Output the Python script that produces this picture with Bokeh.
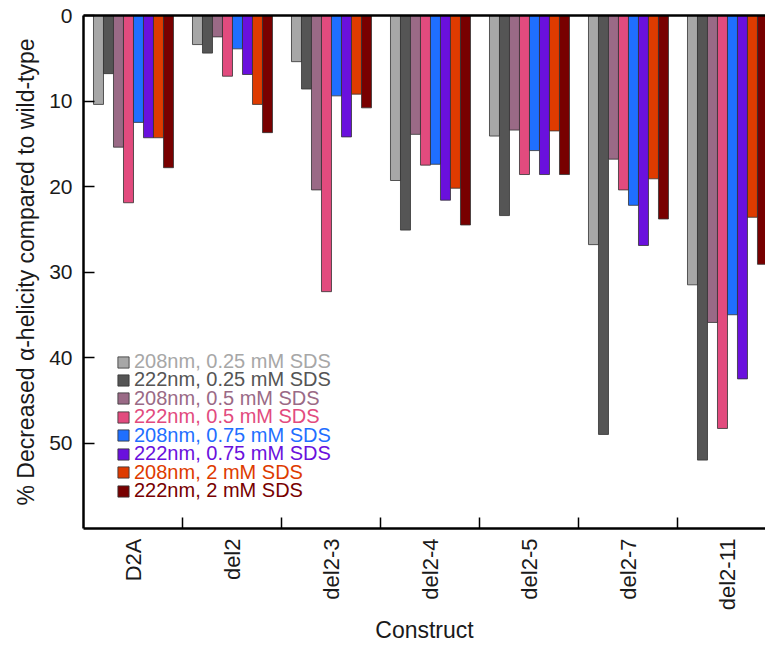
from bokeh.plotting import figure
from bokeh.models import (ColumnDataSource, Range1d, FixedTicker, LinearAxis, Legend, LegendItem)
from bokeh.transform import dodge
from bokeh.embed import file_html
from bokeh.resources import INLINE

# ---- data ----
constructs = ["D2A", "del2", "del2-3", "del2-4", "del2-5", "del2-7", "del2-11"]
s208_025 = [10.4, 3.4, 5.4, 19.3, 14.1, 26.8, 31.5]
s222_025 = [6.8, 4.4, 8.6, 25.1, 23.4, 49.0, 52.0]
s208_05 = [15.4, 2.5, 20.4, 13.9, 13.4, 16.8, 35.9]
s222_05 = [21.9, 7.1, 32.3, 17.5, 18.6, 20.4, 48.3]
s208_075 = [12.5, 3.9, 9.4, 17.4, 15.8, 22.2, 35.0]
s222_075 = [14.3, 6.9, 14.2, 21.6, 18.6, 26.9, 42.5]
s208_2 = [14.3, 10.4, 9.2, 20.2, 13.5, 19.1, 23.6]
s222_2 = [17.8, 13.7, 10.8, 24.5, 18.6, 23.8, 29.1]

series_names = ["208nm, 0.25 mM SDS", "222nm, 0.25 mM SDS", "208nm, 0.5 mM SDS",
                "222nm, 0.5 mM SDS", "208nm, 0.75 mM SDS", "222nm, 0.75 mM SDS",
                "208nm, 2 mM SDS", "222nm, 2 mM SDS"]
series_keys = ["s208_025", "s222_025", "s208_05", "s222_05", "s208_075", "s222_075", "s208_2", "s222_2"]
series_vals = [s208_025, s222_025, s208_05, s222_05, s208_075, s222_075, s208_2, s222_2]
colors = ["#A7A7A7", "#555555", "#9A6A86", "#E24B7E", "#1F6FFF", "#6A10DD", "#DE3B00", "#780000"]

FONT = "Liberation Sans"

data = {"idx": list(range(len(constructs)))}
for k, v in zip(series_keys, series_vals):
    data[k] = v
src = ColumnDataSource(data)

W, H_FIG = 765, 647
LEFT, TOP, BOTTOM = 83, 15, 119
p = figure(width=W, height=H_FIG, output_backend="svg", toolbar_location=None,
           x_range=Range1d(-0.505, 6.384), y_range=Range1d(60, 0),
           min_border_left=LEFT, min_border_right=0, min_border_top=TOP, min_border_bottom=BOTTOM)
p.outline_line_color = None
p.xgrid.visible = False
p.ygrid.visible = False
p.background_fill_color = "white"
p.border_fill_color = "white"

bw = 0.101
renderers = []
for i, k in enumerate(series_keys):
    r = p.vbar(x=dodge("idx", (i - 3.5) * bw, range=p.x_range), top=k, bottom=0, width=bw,
               source=src, fill_color=colors[i], line_color="#333333", line_width=1, line_alpha=0.8)
    renderers.append(r)

# x axis
xa = p.xaxis[0]
xa.ticker = FixedTicker(ticks=list(range(len(constructs))),
                        minor_ticks=[i + 0.5 for i in range(len(constructs) - 1)])
xa.major_label_overrides = {i: c for i, c in enumerate(constructs)}
xa.major_label_orientation = 1.5708
xa.major_tick_in = 0
xa.major_tick_out = 0
xa.minor_tick_in = 11
xa.minor_tick_out = 0
xa.minor_tick_line_width = 1.5
xa.minor_tick_line_color = "black"
xa.axis_line_width = 2.5
xa.axis_line_color = "black"
xa.major_label_text_font = FONT
xa.major_label_text_font_size = "22px"
xa.major_label_text_color = "#1a1a1a"
xa.major_label_standoff = 10
xa.axis_label = "Construct"
xa.axis_label_text_font = FONT
xa.axis_label_text_font_size = "23px"
xa.axis_label_text_font_style = "normal"
xa.axis_label_text_color = "#1a1a1a"
xa.axis_label_standoff = 4

# y axis
ya = p.yaxis[0]
ya.ticker = FixedTicker(ticks=[0, 10, 20, 30, 40, 50], minor_ticks=[])
ya.major_tick_in = 11
ya.major_tick_out = 0
ya.major_tick_line_width = 1.5
ya.axis_line_width = 2.5
ya.axis_line_color = "black"
ya.major_label_text_font = FONT
ya.major_label_text_font_size = "21px"
ya.major_label_text_color = "#1a1a1a"
ya.major_label_standoff = 11
ya.axis_label = "% Decreased \u03b1-helicity compared to wild-type"
ya.axis_label_text_font = FONT
ya.axis_label_text_font_size = "23px"
ya.axis_label_text_font_style = "normal"
ya.axis_label_text_color = "#1a1a1a"
ya.axis_label_standoff = 7

# top line
top = LinearAxis(ticker=FixedTicker(ticks=[]), major_tick_in=0, major_tick_out=0,
                 major_label_standoff=0, axis_line_width=2.5, axis_line_color="black",
                 major_label_text_font_size="0px")
p.add_layout(top, "above")

# legend: one per series so each label has its own colour
frame_bottom = H_FIG - BOTTOM
for i, r in enumerate(renderers):
    yc = 363 + 18.43 * i
    leg = Legend(items=[LegendItem(label=series_names[i], renderers=[r])],
                 location=(33, frame_bottom - yc - 10),
                 orientation="vertical", padding=0, margin=0, spacing=0,
                 background_fill_alpha=0, border_line_color=None,
                 glyph_width=14, glyph_height=14, label_height=16, label_standoff=4,
                 label_text_font=FONT, label_text_font_size="20px",
                 label_text_color=colors[i], label_text_baseline="middle")
    p.add_layout(leg, "center")

open("out.html", "w").write(file_html(p, INLINE))
